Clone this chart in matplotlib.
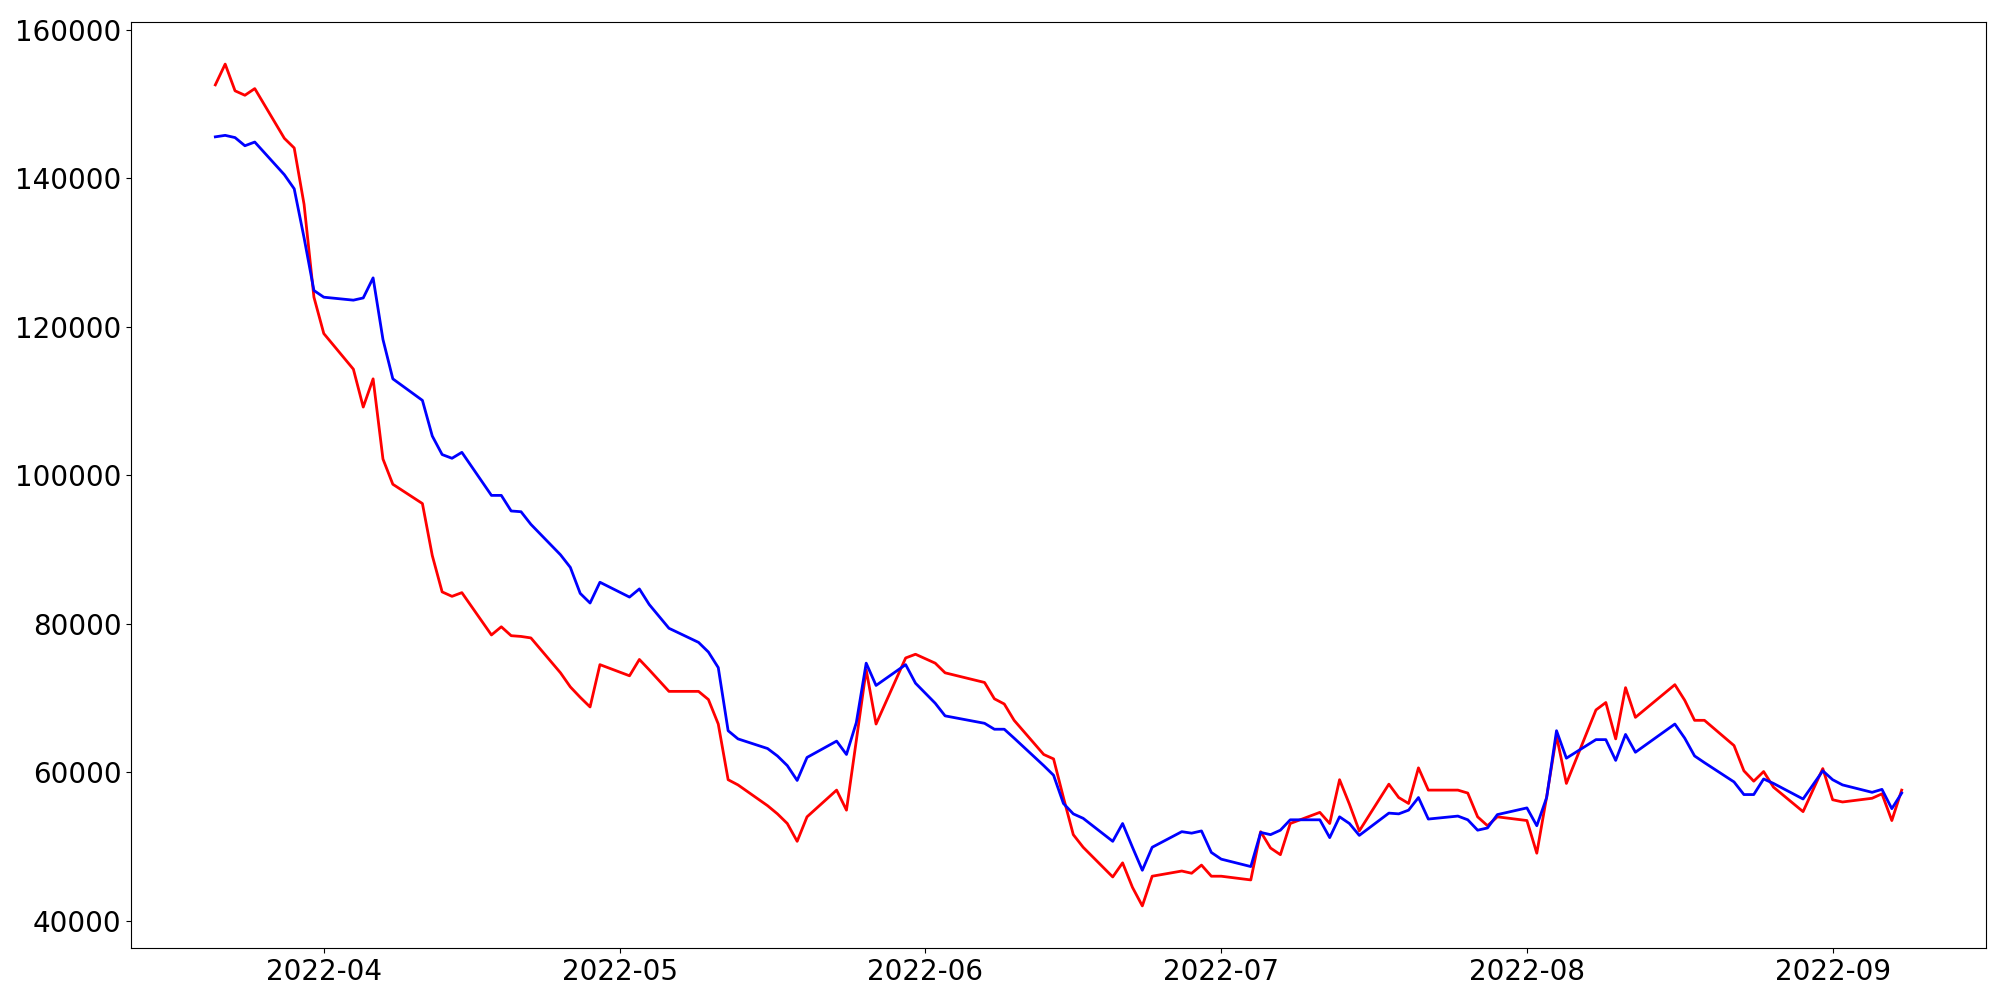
import matplotlib
matplotlib.use("Agg")
import matplotlib.pyplot as plt
import pandas as pd

# ==== trading days (KRX calendar, weekends + holidays skipped) ====
holidays = ["2022-05-05", "2022-06-01", "2022-06-06", "2022-08-15"]
dates = pd.bdate_range("2022-03-21", "2022-09-08", freq="C", holidays=holidays)

# ==== red series ====
red_vals = [
    # Mar
    152600, 155400, 151800, 151200, 152100, 145400, 144100, 136500, 124000,
    # Apr
    119100, 114300, 109200, 113000, 102200, 98800, 96200, 89200, 84300, 83700,
    84200, 78500, 79600, 78400, 78300, 78100, 73400, 71500, 70100, 68800, 74500,
    # May
    73000, 75200, 73800, 70900, 70900, 69800, 66500, 59000, 58300, 55500,
    54400, 53100, 50700, 54000, 57600, 54900, 64300, 73800, 66500, 75400, 75900,
    # Jun
    74700, 73400, 72100, 69900, 69200, 67000, 62400, 61800, 56600, 51600,
    49900, 45900, 47800, 44500, 42000, 46000, 46700, 46400, 47500, 46000,
    # Jul
    46000, 45500, 52000, 49800, 48900, 53100, 54600, 53100, 59000, 55700,
    52100, 58400, 56600, 55800, 60600, 57600, 57600, 57200, 54000, 52800, 54000,
    # Aug
    53500, 49100, 56700, 64900, 58500, 68400, 69400, 64500, 71400, 67400,
    71800, 69700, 67000, 67000, 63600, 60200, 58800, 60100, 58000, 54700,
    57600, 60500,
    # Sep
    56300, 56000, 56500, 57100, 53500, 57600,
]

# ==== blue series ====
blue_vals = [
    # Mar
    145600, 145800, 145500, 144400, 144900, 140500, 138600, 132000, 124900,
    # Apr
    124000, 123600, 123900, 126600, 118300, 113000, 110100, 105300, 102800, 102300,
    103100, 97300, 97300, 95200, 95100, 93400, 89300, 87600, 84100, 82800, 85600,
    # May
    83600, 84700, 82600, 79400, 77500, 76200, 74100, 65600, 64500, 63200,
    62200, 60900, 58900, 62000, 64200, 62400, 66700, 74700, 71700, 74500, 72000,
    # Jun
    69300, 67600, 66600, 65800, 65800, 64600, 60900, 59600, 55800, 54400,
    53800, 50700, 53100, 49900, 46800, 49900, 52000, 51800, 52100, 49200,
    # Jul
    48300, 47300, 51900, 51600, 52200, 53600, 53600, 51200, 54000, 53100,
    51500, 54500, 54400, 54900, 56600, 53700, 54100, 53600, 52200, 52500, 54300,
    # Aug
    55200, 52800, 56600, 65600, 61900, 64400, 64400, 61600, 65100, 62700,
    66500, 64600, 62200, 61300, 58700, 57000, 57000, 59100, 58500, 56400,
    58300, 60200,
    # Sep
    59000, 58300, 57300, 57700, 55100, 57200,
]

fig = plt.figure(figsize=(20, 10), dpi=100)
ax = fig.add_axes([0.0655, 0.052, 0.9275, 0.926])

ax.plot(dates, red_vals, color="red", linewidth=2)
ax.plot(dates, blue_vals, color="blue", linewidth=2)

ax.tick_params(axis="both", labelsize=20)

fig.savefig("out.png", dpi=100)
